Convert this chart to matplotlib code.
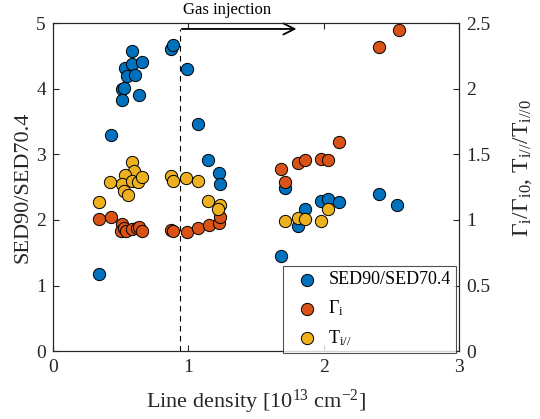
import matplotlib

matplotlib.use("Agg")

import matplotlib.pyplot as plt

plt.rcParams["font.family"] = ["Liberation Serif", "DejaVu Serif"]
plt.rcParams["mathtext.fontset"] = "custom"
plt.rcParams["mathtext.rm"] = "Liberation Serif"
plt.rcParams["mathtext.it"] = "Liberation Serif:italic"

# SED90/SED70.4 ratio (left axis)
sed_x = [0.586, 0.872, 0.889, 0.99, 0.53, 0.586, 0.655, 0.549, 0.604, 0.508,
         0.525, 0.51, 0.633, 0.429, 1.072, 1.148, 1.225, 1.237, 0.34,
         1.715, 1.983, 2.03, 2.11, 1.862, 1.81, 2.41, 2.545, 1.685]
sed_y = [4.57, 4.60, 4.66, 4.30, 4.31, 4.37, 4.40, 4.19, 4.21, 3.99,
         4.01, 3.83, 3.90, 3.29, 3.46, 2.91, 2.71, 2.55, 1.18,
         2.48, 2.29, 2.32, 2.27, 2.16, 1.91, 2.39, 2.22, 1.45]

# Gamma_i / Gamma_i0 (right axis)
gamma_x = [0.34, 0.429, 0.508, 0.506, 0.525, 0.542, 0.582, 0.62, 0.633, 0.655,
           0.872, 0.887, 0.99, 1.072, 1.15, 1.225, 1.237,
           2.11, 1.685, 1.717, 1.81, 1.862, 1.983, 2.03, 2.555, 2.41]
gamma_y = [1.005, 1.02, 0.965, 0.915, 0.935, 0.915, 0.928, 0.935, 0.943, 0.918,
           0.923, 0.918, 0.905, 0.935, 0.958, 0.978, 1.02,
           1.59, 1.385, 1.29, 1.435, 1.455, 1.465, 1.455, 2.45, 2.32]

# T_i// / T_i//0 (right axis)
temp_x = [0.34, 0.424, 0.586, 0.601, 0.535, 0.508, 0.527, 0.552, 0.586, 0.628,
          0.658, 0.875, 0.889, 0.983, 1.072, 1.146, 1.234, 1.222,
          2.03, 1.717, 1.81, 1.862, 1.983]
temp_y = [1.135, 1.29, 1.44, 1.375, 1.345, 1.275, 1.22, 1.19, 1.295, 1.285,
          1.325, 1.335, 1.30, 1.32, 1.30, 1.145, 1.11, 1.08,
          1.085, 0.995, 1.015, 1.005, 0.99]

injection_x = 0.936

fig = plt.figure(figsize=(5.4, 4.19), dpi=100)
ax = fig.add_axes([0.098, 0.162, 0.752, 0.783])
ax2 = ax.twinx()

marker_style = dict(s=78, edgecolors="black", linewidths=0.7, zorder=3)
h1 = ax.scatter(sed_x, sed_y, c="#0072BD", label="SED90/SED70.4", **marker_style)
h2 = ax2.scatter(gamma_x, gamma_y, c="#D95319", label=r"$\mathrm{\Gamma_i}$", **marker_style)
h3 = ax2.scatter(temp_x, temp_y, c="#EDB120", label=r"$\mathrm{T_{i//}}$", **marker_style)

ax.set_xlim(0, 3)
ax.set_ylim(0, 5)
ax2.set_ylim(0, 2.5)
ax.set_xticks([0, 1, 2, 3])
ax.set_yticks([0, 1, 2, 3, 4, 5])
ax2.set_yticks([0, 0.5, 1, 1.5, 2, 2.5])
ax2.set_yticklabels(["0", "0.5", "1", "1.5", "2", "2.5"])

for a in (ax, ax2):
    a.tick_params(direction="in", labelsize=14, length=4, width=0.8, colors="#262626")
    for spine in a.spines.values():
        spine.set_color("#262626")
        spine.set_linewidth(0.8)
ax.tick_params(top=True, right=False)
ax.tick_params(axis="x", pad=6)
ax.tick_params(axis="y", pad=5)
ax2.tick_params(axis="y", pad=5)

ax.set_xlabel(r"Line density [10$^{\mathrm{13}}$ cm$^{\mathrm{-2}}$]", fontsize=16, color="#262626")
ax.xaxis.set_label_coords(0.5, -0.155)
ax.xaxis.label.set_va("center")
ax.set_ylabel("SED90/SED70.4", fontsize=16, color="#262626")
ax.yaxis.set_label_coords(-0.074, 0.5)
ax.yaxis.label.set_va("center")
ax2.set_ylabel(r"$\mathrm{\Gamma_i/\Gamma_{i0}}$, $\mathrm{T_{i//}/T_{i//0}}$", fontsize=17, color="#262626")
ax2.yaxis.set_label_coords(1.157, 0.558)
ax2.yaxis.label.set_va("center")

# gas injection marker
ax.plot([injection_x, injection_x], [0, 4.91], color="black", linestyle=(0, (5, 4)), lw=0.8, clip_on=False)
ax.annotate("", xy=(1.82, 4.91), xytext=(injection_x - 0.004, 4.91),
            arrowprops=dict(arrowstyle="->", lw=1.3, color="black", mutation_scale=20),
            annotation_clip=False)
ax.text(1.29, 5.2, "Gas injection", ha="center", va="center", fontsize=12)

leg = ax2.legend(handles=[h1, h2, h3], loc="lower right", bbox_to_anchor=(0.993, -0.006),
                 borderaxespad=0, fontsize=13, frameon=True, fancybox=False,
                 edgecolor="#262626", handletextpad=0.2, labelspacing=0.55, borderpad=0.3)
leg.get_frame().set_linewidth(0.8)

fig.savefig("out.png", dpi=100)
plt.close(fig)
